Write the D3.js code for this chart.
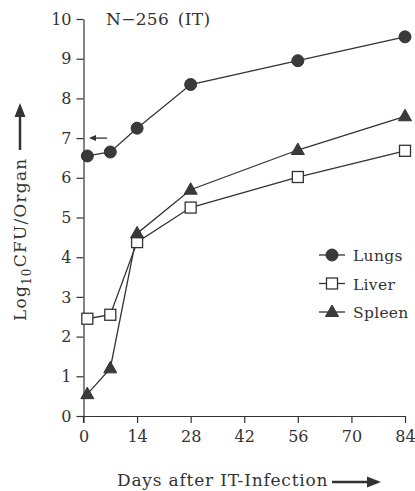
<!DOCTYPE html>
<html>
<head>
<meta charset="utf-8">
<script src="https://d3js.org/d3.v7.min.js"></script>
<style>
  body { margin: 0; background: #fff; }
  svg text { font-family: "DejaVu Serif", serif; fill: #333; }
</style>
</head>
<body>
<div id="container"></div>
<script>
// values
var days = [1, 7, 14, 28, 56, 84];
var lungs = [6.55, 6.65, 7.25, 8.35, 8.95, 9.55];
var liver = [2.45, 2.55, 4.38, 5.25, 6.02, 6.68];
var spleen = [0.55, 1.2, 4.6, 5.7, 6.7, 7.55];
var xTicks = [0, 14, 28, 42, 56, 70, 84];
var yTicks = [0, 1, 2, 3, 4, 5, 6, 7, 8, 9, 10];
var seriesNames = ["Lungs", "Liver", "Spleen"];
var markerArrow = 7;   // the little arrow on the y axis

var width = 415, height = 491;
var ink = "#333";
var serif = "DejaVu Serif";

var svg = d3.select("#container").append("svg")
    .attr("width", width)
    .attr("height", height);

var x = d3.scaleLinear().domain([0, 84]).range([83.5, 405]);
var y = d3.scaleLinear().domain([0, 10]).range([416, 19]);

// axes
var xAxis = svg.append("g")
    .attr("transform", "translate(0," + y(0) + ")")
    .call(d3.axisBottom(x).tickValues(xTicks).tickSizeInner(7).tickSizeOuter(0).tickPadding(8));
var yAxis = svg.append("g")
    .attr("transform", "translate(" + x(0) + ",0)")
    .call(d3.axisLeft(y).tickValues(yTicks).tickSizeInner(7).tickSizeOuter(0).tickPadding(5));

[xAxis, yAxis].forEach(function(a) {
  a.attr("font-family", serif).attr("font-size", 16);
  a.select(".domain").attr("stroke", ink).attr("stroke-width", 1.2);
  a.selectAll(".tick line").attr("stroke", ink).attr("stroke-width", 1.2);
  a.selectAll(".tick text").attr("fill", ink);
});
// y-axis line continues down to the zero tick of the x axis
svg.append("line")
    .attr("x1", x(0)).attr("x2", x(0))
    .attr("y1", y(0)).attr("y2", y(0) + 7)
    .attr("stroke", ink).attr("stroke-width", 1.2);

var line = d3.line()
    .x(function(d) { return x(d[0]); })
    .y(function(d) { return y(d[1]); });

var series = [lungs, liver, spleen].map(function(vals, i) {
  return { name: seriesNames[i], pts: days.map(function(d, j) { return [d, vals[j]]; }) };
});

svg.selectAll("path.series")
    .data(series)
    .enter().append("path")
    .attr("class", "series")
    .attr("d", function(d) { return line(d.pts); })
    .attr("fill", "none")
    .attr("stroke", ink)
    .attr("stroke-width", 1.3);

function drawMarker(g, name, cx, cy) {
  if (name === "Lungs") {
    g.append("circle").attr("cx", cx).attr("cy", cy).attr("r", 6)
      .attr("fill", "#3a3a3a").attr("stroke", ink);
  } else if (name === "Liver") {
    g.append("rect").attr("x", cx - 5.5).attr("y", cy - 5.5)
      .attr("width", 11).attr("height", 11)
      .attr("fill", "#fff").attr("stroke", ink).attr("stroke-width", 1.3);
  } else {
    g.append("path")
      .attr("d", "M" + cx + "," + (cy - 7) + "L" + (cx + 6.5) + "," + (cy + 4.5) + "L" + (cx - 6.5) + "," + (cy + 4.5) + "Z")
      .attr("fill", "#3a3a3a").attr("stroke", ink);
  }
}

var markG = svg.append("g");
series.forEach(function(s) {
  s.pts.forEach(function(p) { drawMarker(markG, s.name, x(p[0]), y(p[1])); });
});

// inoculum arrow at 7
var ay = y(markerArrow);
svg.append("line").attr("x1", 94).attr("x2", 107).attr("y1", ay).attr("y2", ay)
    .attr("stroke", ink).attr("stroke-width", 1.3);
svg.append("path")
    .attr("d", "M89," + ay + "L96," + (ay - 3) + "L96," + (ay + 3) + "Z")
    .attr("fill", ink);

// title
svg.append("text")
    .attr("x", 106).attr("y", 25)
    .attr("font-size", "17px")
    .attr("letter-spacing", "0.3px")
    .text("N\u2212256\u2002(IT)");

// legend
var legend = svg.append("g");
seriesNames.forEach(function(n, i) {
  var ly = 255 + i * 28.5;
  legend.append("line").attr("x1", 319).attr("x2", 345).attr("y1", ly).attr("y2", ly)
      .attr("stroke", ink).attr("stroke-width", 1.3);
  drawMarker(legend, n, 332, ly);
  legend.append("text").attr("x", 353).attr("y", ly + 6)
      .attr("font-size", "15.5px")
      .attr("letter-spacing", "0.3px")
      .text(n);
});

// x-axis title with arrow
svg.append("text")
    .attr("x", 117).attr("y", 486)
    .attr("font-size", "17px")
    .attr("letter-spacing", "0.8px")
    .text("Days after IT-Infection");
svg.append("line").attr("x1", 332).attr("x2", 370).attr("y1", 482).attr("y2", 482)
    .attr("stroke", ink).attr("stroke-width", 2.5);
svg.append("path").attr("d", "M381,482L367,476.5L367,487.5Z").attr("fill", ink);

// y-axis title with arrow
var yl = svg.append("text")
    .attr("transform", "translate(26,321) rotate(-90)")
    .attr("font-size", "17px")
    .attr("letter-spacing", "1.2px");
yl.append("tspan").text("Log");
yl.append("tspan").attr("font-size", "12px").attr("dy", 5).text("10");
yl.append("tspan").attr("dy", -5).text("CFU/Organ");
svg.append("line").attr("x1", 20).attr("x2", 20).attr("y1", 150).attr("y2", 114)
    .attr("stroke", ink).attr("stroke-width", 2.5);
svg.append("path").attr("d", "M20,103L14.5,117L25.5,117Z").attr("fill", ink);
</script>
</body>
</html>
